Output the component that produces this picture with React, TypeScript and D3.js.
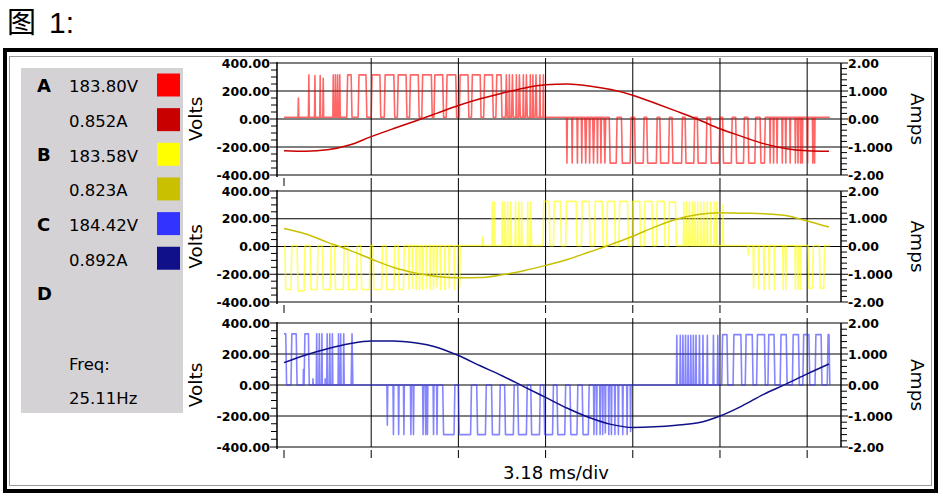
import React from "react";
import * as d3 from "d3";

const W = 943;
const H = 499;

// ---------- axis ticks ----------
const timeTicks = [0, 1, 2, 3, 4, 5, 6];
const voltTicks = [400, 200, 0, -200, -400];
const voltTickLabels = ["400.00", "200.00", "0.00", "-200.00", "-400.00"];
const voltMinorTicks = [350, 300, 250, 150, 100, 50, -50, -100, -150, -250, -300, -350];
const ampTicks = [2, 1, 0, -1, -2];
const ampTickLabels = ["2.00", "1.000", "0.00", "-1.000", "-2.00"];
const ampMinorTicks = [1.8, 1.6, 1.4, 1.2, 0.8, 0.6, 0.4, 0.2, -0.2, -0.4, -0.6, -0.8, -1.2, -1.4, -1.6, -1.8];

// ---------- currents (A), sampled at time (divisions) ----------
const sampleTimes = [0, 0.25, 0.5, 0.75, 1, 1.25, 1.5, 1.75, 2, 2.25, 2.5, 2.75, 3, 3.25, 3.5, 3.75, 4, 4.25, 4.5, 4.75, 5, 5.25, 5.5, 5.75, 6, 6.25];
const currentA = [-1.13, -1.15, -1.1, -0.93, -0.63, -0.35, -0.08, 0.2, 0.48, 0.72, 0.92, 1.1, 1.22, 1.25, 1.18, 1.05, 0.85, 0.57, 0.28, -0.02, -0.35, -0.62, -0.88, -1.05, -1.13, -1.15];
const currentB = [0.65, 0.45, 0.15, -0.13, -0.45, -0.75, -0.95, -1.08, -1.13, -1.12, -1.02, -0.87, -0.68, -0.47, -0.2, 0.07, 0.37, 0.7, 0.98, 1.15, 1.22, 1.2, 1.18, 1.12, 0.92, 0.7];
const currentC = [0.72, 0.97, 1.17, 1.33, 1.42, 1.42, 1.36, 1.22, 0.95, 0.62, 0.3, -0.05, -0.4, -0.75, -1.05, -1.27, -1.37, -1.35, -1.3, -1.22, -1.0, -0.68, -0.3, 0.02, 0.36, 0.68];

// ---------- voltage pulses: [start div, end div, volts] ----------
type Pulse = [number, number, number];
const pulsesA: Pulse[] = [
  [0.16, 0.17, 150], [0.28, 0.29, 315], [0.35, 0.36, 310], [0.41, 0.42, 310], [0.445, 0.455, 290],
  [0.56, 0.57, 315], [0.585, 0.595, 315], [0.61, 0.62, 315], [0.635, 0.645, 315],
  [0.72, 0.78, 315], [0.85, 0.95, 315], [1.0, 1.11, 315], [1.15, 1.27, 315], [1.3, 1.41, 315],
  [1.44, 1.55, 315], [1.58, 1.7, 315], [1.72, 1.83, 315], [1.86, 1.98, 315], [2.01, 2.12, 315],
  [2.15, 2.26, 315], [2.29, 2.4, 315], [2.43, 2.5, 315],
  [2.54, 2.56, 315], [2.58, 2.59, 315], [2.61, 2.63, 315], [2.66, 2.67, 315], [2.69, 2.71, 315],
  [2.74, 2.75, 315], [2.77, 2.79, 315], [2.82, 2.83, 315], [2.85, 2.86, 315], [2.88, 2.9, 315],
  [2.93, 2.94, 315], [2.97, 2.98, 315],
  [3.24, 3.25, -315], [3.3, 3.31, -315], [3.36, 3.37, -315], [3.41, 3.42, -315], [3.45, 3.47, -315],
  [3.5, 3.51, -315], [3.54, 3.56, -315], [3.59, 3.6, -315], [3.63, 3.64, -315], [3.67, 3.69, -315],
  [3.73, 3.82, -315], [3.87, 3.98, -315], [4.02, 4.13, -315], [4.16, 4.28, -315], [4.31, 4.42, -315],
  [4.45, 4.57, -315], [4.6, 4.71, -315], [4.74, 4.85, -315], [4.89, 5.0, -315], [5.03, 5.14, -315],
  [5.18, 5.28, -315], [5.32, 5.41, -315], [5.46, 5.52, -315],
  [5.57, 5.58, -315], [5.61, 5.62, -315], [5.65, 5.66, -315], [5.71, 5.72, -315], [5.75, 5.76, -315],
  [5.8, 5.81, -315], [5.86, 5.87, -315], [5.89, 5.9, -315], [5.92, 5.93, -315], [5.94, 5.95, -315],
  [6.0, 6.01, -315], [6.06, 6.07, -315], [6.08, 6.09, -315],
];
const pulsesB: Pulse[] = [
  [0.01, 0.09, -310], [0.15, 0.24, -320], [0.3, 0.39, -310], [0.44, 0.54, -310], [0.58, 0.69, -310],
  [0.73, 0.84, -310], [0.88, 0.99, -310], [1.02, 1.13, -310], [1.17, 1.27, -310], [1.31, 1.38, -310],
  [1.43, 1.44, -310], [1.47, 1.48, -300], [1.51, 1.52, -310], [1.55, 1.56, -310], [1.58, 1.6, -310],
  [1.63, 1.64, -300], [1.67, 1.68, -310], [1.71, 1.72, -310], [1.75, 1.76, -290], [1.79, 1.8, -310],
  [1.84, 1.85, -310], [1.89, 1.9, -300], [1.95, 1.96, -310], [2.01, 2.02, -290],
  [2.27, 2.29, 70],
  [2.385, 2.395, 320], [2.41, 2.42, 320], [2.5, 2.51, 320], [2.53, 2.54, 320], [2.56, 2.57, 320],
  [2.59, 2.61, 320], [2.65, 2.66, 320], [2.69, 2.7, 320], [2.72, 2.73, 320], [2.79, 2.8, 320], [2.82, 2.84, 320],
  [2.97, 3.05, 325], [3.09, 3.18, 325], [3.23, 3.36, 325], [3.41, 3.51, 325], [3.56, 3.66, 325],
  [3.7, 3.8, 325], [3.84, 3.95, 325], [3.99, 4.09, 325], [4.13, 4.23, 325], [4.27, 4.37, 325], [4.41, 4.5, 320],
  [4.58, 4.59, 320], [4.61, 4.62, 320], [4.64, 4.66, 320], [4.68, 4.69, 320], [4.71, 4.72, 320],
  [4.74, 4.75, 320], [4.78, 4.79, 320], [4.81, 4.82, 320], [4.85, 4.86, 320], [4.89, 4.9, 320],
  [4.93, 4.94, 320], [4.96, 4.97, 320], [5.03, 5.04, 300],
  [5.32, 5.33, -60], [5.38, 5.39, -300], [5.44, 5.45, -310], [5.5, 5.51, -310], [5.56, 5.57, -310],
  [5.62, 5.63, -310], [5.72, 5.73, -310], [5.75, 5.76, -310], [5.86, 5.87, -310], [5.89, 5.9, -310],
  [5.92, 5.93, -310], [6.01, 6.07, -300], [6.14, 6.2, -300],
];
const pulsesC: Pulse[] = [
  [0.0, 0.03, 330], [0.08, 0.15, 330], [0.22, 0.225, 100], [0.23, 0.29, 330], [0.33, 0.335, 40],
  [0.37, 0.38, 330], [0.4, 0.41, 330], [0.43, 0.44, 330], [0.47, 0.475, 40], [0.49, 0.5, 330],
  [0.52, 0.53, 330], [0.55, 0.56, 330], [0.62, 0.63, 330], [0.645, 0.655, 330], [0.68, 0.69, 330],
  [0.77, 0.79, 330],
  [1.18, 1.19, -260], [1.25, 1.26, -320], [1.31, 1.32, -320], [1.37, 1.38, -320], [1.45, 1.46, -320],
  [1.48, 1.49, -320], [1.59, 1.6, -320], [1.62, 1.63, -320], [1.64, 1.65, -320], [1.71, 1.72, -320],
  [1.75, 1.76, -320],
  [1.82, 1.96, -320], [2.0, 2.15, -320], [2.21, 2.32, -320], [2.38, 2.48, -320], [2.53, 2.64, -320],
  [2.68, 2.79, -320], [2.83, 2.94, -320], [2.98, 3.09, -320], [3.13, 3.23, -320], [3.28, 3.37, -320],
  [3.42, 3.5, -320],
  [3.55, 3.56, -320], [3.58, 3.59, -320], [3.62, 3.63, -320], [3.65, 3.66, -320], [3.68, 3.69, -310],
  [3.72, 3.73, -320], [3.75, 3.76, -320], [3.79, 3.8, -320], [3.83, 3.84, -320], [3.88, 3.89, -320],
  [3.93, 3.94, -320], [3.97, 3.98, -300],
  [4.5, 4.51, 320], [4.54, 4.55, 320], [4.57, 4.58, 320], [4.6, 4.61, 320], [4.63, 4.64, 320],
  [4.66, 4.67, 320], [4.69, 4.7, 320], [4.72, 4.73, 320], [4.76, 4.77, 320], [4.8, 4.81, 320],
  [4.85, 4.86, 320], [4.92, 4.93, 320], [4.97, 4.98, 320],
  [5.02, 5.09, 325], [5.15, 5.25, 325], [5.29, 5.38, 325], [5.42, 5.52, 325], [5.55, 5.63, 325],
  [5.69, 5.77, 325], [5.83, 5.91, 325], [5.95, 6.03, 325], [6.09, 6.17, 325], [6.23, 6.26, 325],
];
const baselines = [12, 6, 0];
const traceEnd = 6.26;

// ---------- legend ----------
const phaseNames = ["A", "B", "C", "D"];
const rmsVolts = ["183.80V", "183.58V", "184.42V"];
const rmsAmps = ["0.852A", "0.823A", "0.892A"];
const voltColors = ["#ff0000", "#ffff00", "#3333ff"];
const ampColors = ["#c80000", "#c8c000", "#10108a"];
const freqLabel = "Freq:";
const freqValue = "25.11Hz";

const panels = [
  { top: 63, bottom: 175, pulses: pulsesA, current: currentA },
  { top: 191, bottom: 302, pulses: pulsesB, current: currentB },
  { top: 323, bottom: 447, pulses: pulsesC, current: currentC },
];

const x = d3.scaleLinear().domain([0, 6.38]).range([284, 840.3]);
const AXIS_L = 277;
const AXIS_R = 841;
const FONT = "'DejaVu Sans', Verdana, sans-serif";

function pulsePoints(pulses: Pulse[], base: number): [number, number][] {
  const pts: [number, number][] = [];
  const r = 0.01;
  if (pulses[0][0] > 0) pts.push([0, base]);
  for (const [t0, t1, v] of pulses) {
    if (t0 <= 0) {
      pts.push([0, v], [t1 - r, v], [t1, base]);
    } else if (t1 - t0 < 0.02) {
      pts.push([t0, base], [(t0 + t1) / 2, v], [t1, base]);
    } else {
      pts.push([t0, base], [t0 + r, v], [t1 - r, v], [t1, base]);
    }
  }
  pts.push([traceEnd, base]);
  return pts;
}

function Panel({ idx }: { idx: number }) {
  const p = panels[idx];
  const yV = d3.scaleLinear().domain([-400, 400]).range([p.bottom, p.top]);
  const yA = d3.scaleLinear().domain([-2, 2]).range([p.bottom, p.top]);
  const vLine = d3
    .line<[number, number]>()
    .x((d) => x(d[0]))
    .y((d) => yV(d[1]));
  const aLine = d3
    .line<number>()
    .x((_, i) => x(sampleTimes[i]))
    .y((d) => yA(d))
    .curve(d3.curveMonotoneX);
  const cy = (p.top + p.bottom) / 2;
  return (
    <g>
      {voltTicks.map((v) => (
        <line key={"h" + v} x1={AXIS_L} x2={AXIS_R} y1={yV(v)} y2={yV(v)} stroke="#000" strokeWidth={1} />
      ))}
      {timeTicks.map((t) => (
        <g key={"v" + t}>
          {t > 0 && <line x1={x(t)} x2={x(t)} y1={p.top - 5} y2={p.bottom} stroke="#000" strokeWidth={1} />}
          <line x1={x(t)} x2={x(t)} y1={p.bottom + 3} y2={p.bottom + 11} stroke="#000" strokeWidth={1} />
        </g>
      ))}
      <line x1={AXIS_L} x2={AXIS_L} y1={p.top - 1} y2={p.bottom + 2} stroke="#000" strokeWidth={1.5} />
      {voltMinorTicks.map((v) => (
        <line key={"lm" + v} x1={AXIS_L - 6} x2={AXIS_L} y1={yV(v)} y2={yV(v)} stroke="#000" strokeWidth={1} />
      ))}
      {voltTicks.map((v, i) => (
        <g key={"lt" + v}>
          <line x1={AXIS_L - 7} x2={AXIS_L} y1={yV(v)} y2={yV(v)} stroke="#000" strokeWidth={1} />
          <text x={AXIS_L - 7} y={yV(v)} dy="0.36em" textAnchor="end" fontFamily={FONT} fontWeight="bold" fontSize={12.5}>
            {voltTickLabels[i]}
          </text>
        </g>
      ))}
      <line x1={AXIS_R} x2={AXIS_R} y1={p.top} y2={p.bottom} stroke="#000" strokeWidth={1.5} />
      {ampMinorTicks.map((v) => (
        <line key={"rm" + v} x1={AXIS_R} x2={AXIS_R + 6} y1={yA(v)} y2={yA(v)} stroke="#000" strokeWidth={1} />
      ))}
      {ampTicks.map((v, i) => (
        <g key={"rt" + v}>
          <line x1={AXIS_R} x2={AXIS_R + 7} y1={yA(v)} y2={yA(v)} stroke="#000" strokeWidth={1} />
          <text x={AXIS_R + 7} y={yA(v)} dy="0.36em" textAnchor="start" fontFamily={FONT} fontWeight="bold" fontSize={12.5}>
            {ampTickLabels[i]}
          </text>
        </g>
      ))}
      <text transform={`translate(196,${cy}) rotate(-90)`} textAnchor="middle" dy="0.35em" fontFamily={FONT} fontSize={18.5}>
        Volts
      </text>
      <text transform={`translate(917,${cy}) rotate(90)`} textAnchor="middle" dy="0.35em" fontFamily={FONT} fontSize={18.5}>
        Amps
      </text>
      <path
        d={vLine(pulsePoints(p.pulses, baselines[idx])) || ""}
        fill="none"
        stroke={voltColors[idx]}
        strokeWidth={1.6}
        strokeOpacity={0.6}
        strokeLinejoin="round"
      />
      <path d={aLine(p.current) || ""} fill="none" stroke={ampColors[idx]} strokeWidth={1.5} />
    </g>
  );
}

function Legend() {
  const rowY = (i: number) => 85.5 + i * 34.65;
  const rows: { name?: string; text?: string; color?: string; row: number }[] = [];
  for (let k = 0; k < 3; k++) {
    rows.push({ name: phaseNames[k], text: rmsVolts[k], color: voltColors[k], row: k * 2 });
    rows.push({ text: rmsAmps[k], color: ampColors[k], row: k * 2 + 1 });
  }
  rows.push({ name: phaseNames[3], row: 6 });
  rows.push({ text: freqLabel, row: 8 });
  rows.push({ text: freqValue, row: 9 });
  return (
    <g>
      <rect x={21} y={68} width={162} height={345} fill="#d5d2d6" />
      {rows.map((r, i) => (
        <g key={i}>
          {r.name && (
            <text x={37} y={rowY(r.row)} dy="0.36em" fontFamily={FONT} fontWeight="bold" fontSize={18}>
              {r.name}
            </text>
          )}
          {r.text && (
            <text x={69} y={rowY(r.row) + 1} dy="0.36em" fontFamily={FONT} fontSize={16.5}>
              {r.text}
            </text>
          )}
          {r.color && <rect x={157} y={rowY(r.row) - 12} width={23} height={23} fill={r.color} />}
        </g>
      ))}
    </g>
  );
}

export default function App() {
  return (
    <div style={{ position: "absolute", left: 0, top: 0, width: W, height: H, background: "#fff" }}>
      <svg width={W} height={H} viewBox={`0 0 ${W} ${H}`} style={{ display: "block" }}>
        <rect x={0} y={0} width={W} height={H} fill="#fff" />
        <text x={7} y={33} fontFamily="'Noto Sans CJK SC', sans-serif" fontSize={29}>
          图
        </text>
        <text x={49} y={33} fontFamily="'Liberation Sans', Arial, sans-serif" fontSize={30}>
          1:
        </text>
        <rect x={5} y={50} width={931} height={441} fill="none" stroke="#000" strokeWidth={4} />
        <rect x={9.5} y={56.5} width={922} height={429} fill="none" stroke="#9a9a9a" strokeWidth={1} />
        <Legend />
        {panels.map((_, i) => (
          <Panel key={i} idx={i} />
        ))}
        <text x={556} y={473} dy="0.35em" textAnchor="middle" fontFamily={FONT} fontSize={18}>
          3.18 ms/div
        </text>
      </svg>
    </div>
  );
}
